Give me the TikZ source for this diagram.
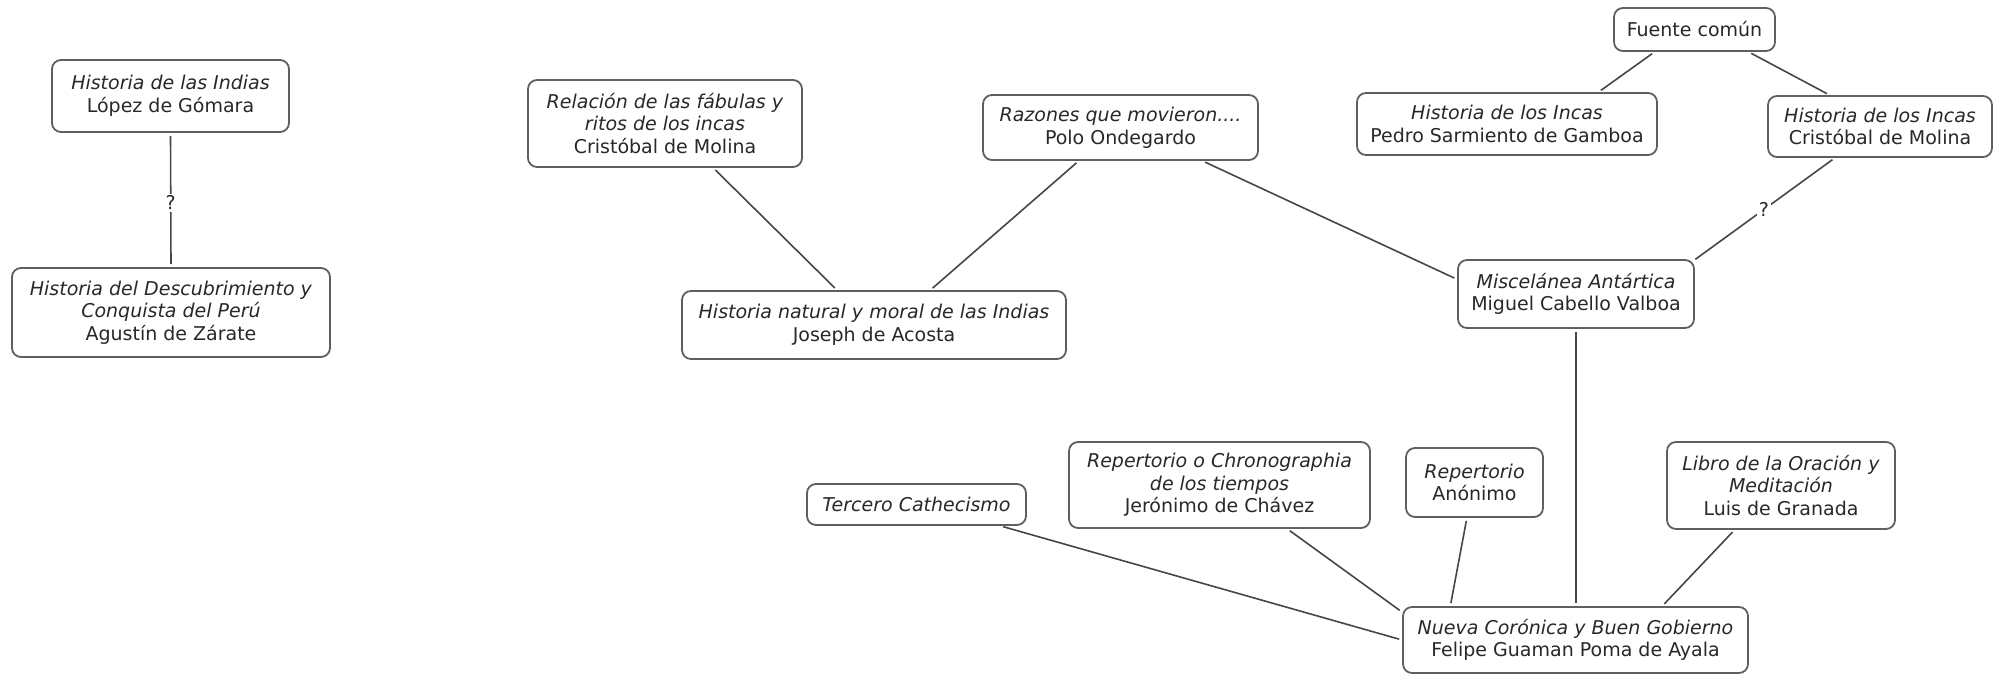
\documentclass[tikz,border=0pt]{standalone}
\usepackage{fontspec}
\setmainfont{DejaVu Sans}
\usetikzlibrary{calc}
\definecolor{boxc}{RGB}{95,95,95}
\definecolor{linec}{RGB}{70,70,70}
\definecolor{txtc}{RGB}{40,40,40}
\tikzset{
  box/.style={draw=boxc, line width=1.8pt, rounded corners=9pt, fill=white,
    align=center, inner sep=0pt, text=txtc,
    font=\fontsize{19}{22.6}\selectfont},
  conn/.style={draw=linec, line width=1.6pt, shorten <=3pt, shorten >=3pt},
  qlabel/.style={fill=white, text=txtc, inner sep=2pt,
    font=\fontsize{19}{22.6}\selectfont}
}
\begin{document}
\begin{tikzpicture}[x=1pt,y=-1pt]
\useasboundingbox (0,0) rectangle (2004,675);
% nodes
\node[box, minimum width=237pt, minimum height=72pt] (gomara) at (170.5,96)
  {\textit{Historia de las Indias}\\López de Gómara};
\node[box, minimum width=318pt, minimum height=89pt] (zarate) at (171,312.5)
  {\textit{Historia del Descubrimiento y}\\\textit{Conquista del Perú}\\Agustín de Zárate};
\node[box, minimum width=274pt, minimum height=87pt] (molinaA) at (665,123.5)
  {\textit{Relación de las fábulas y}\\\textit{ritos de los incas}\\Cristóbal de Molina};
\node[box, minimum width=275pt, minimum height=65pt] (polo) at (1120.5,127.5)
  {\textit{Razones que movieron....}\\Polo Ondegardo};
\node[box, minimum width=384pt, minimum height=68pt] (acosta) at (874,325)
  {\textit{Historia natural y moral de las Indias}\\Joseph de Acosta};
\node[box, minimum width=161pt, minimum height=43pt] (fuente) at (1694.5,29.5)
  {Fuente común};
\node[box, minimum width=300pt, minimum height=62pt] (sarmiento) at (1507,124)
  {\textit{Historia de los Incas}\\Pedro Sarmiento de Gamboa};
\node[box, minimum width=224pt, minimum height=61pt] (molinaB) at (1880,126.5)
  {\textit{Historia de los Incas}\\Cristóbal de Molina};
\node[box, minimum width=236pt, minimum height=68pt] (cabello) at (1576,294)
  {\textit{Miscelánea Antártica}\\Miguel Cabello Valboa};
\node[box, minimum width=219pt, minimum height=41pt] (tercero) at (916.5,504.5)
  {\textit{Tercero Cathecismo}};
\node[box, minimum width=301pt, minimum height=86pt] (chavez) at (1219.5,485)
  {\textit{Repertorio o Chronographia}\\\textit{de los tiempos}\\Jerónimo de Chávez};
\node[box, minimum width=137pt, minimum height=69pt] (anonimo) at (1474.5,482.5)
  {\textit{Repertorio}\\Anónimo};
\node[box, minimum width=228pt, minimum height=87pt] (granada) at (1781,485.5)
  {\textit{Libro de la Oración y}\\\textit{Meditación}\\Luis de Granada};
\node[box, minimum width=345pt, minimum height=66pt] (guaman) at (1575.5,640)
  {\textit{Nueva Corónica y Buen Gobierno}\\Felipe Guaman Poma de Ayala};
% connectors
\draw[conn] (gomara.south) -- node[qlabel, pos=0.52] {?} (zarate.north);
\draw[conn] ($(molinaA.south west)!0.675!(molinaA.south east)$) -- ($(acosta.north west)!0.404!(acosta.north east)$);
\draw[conn] ($(polo.south west)!0.349!(polo.south east)$) -- ($(acosta.north west)!0.646!(acosta.north east)$);
\draw[conn] ($(polo.south west)!0.796!(polo.south east)$) -- ($(cabello.north west)!0.29!(cabello.south west)$);
\draw[conn] ($(fuente.south west)!0.255!(fuente.south east)$) -- ($(sarmiento.north west)!0.803!(sarmiento.north east)$);
\draw[conn] ($(fuente.south west)!0.832!(fuente.south east)$) -- ($(molinaB.north west)!0.277!(molinaB.north east)$);
\draw[conn] ($(molinaB.south west)!0.30!(molinaB.south east)$) -- node[qlabel, pos=0.5] {?} ($(cabello.north east)+(-2,2)$);
\draw[conn] (cabello.south) -- (cabello.south |- guaman.north);
\draw[conn] ($(tercero.south west)!0.88!(tercero.south east)$) -- (guaman.west);
\draw[conn] ($(chavez.south west)!0.724!(chavez.south east)$) -- ($(guaman.north west)+(0,6)$);
\draw[conn] ($(anonimo.south west)!0.445!(anonimo.south east)$) -- ($(guaman.north west)!0.139!(guaman.north east)$);
\draw[conn] ($(granada.south west)!0.298!(granada.south east)$) -- ($(guaman.north west)!0.75!(guaman.north east)$);
\end{tikzpicture}
\end{document}
